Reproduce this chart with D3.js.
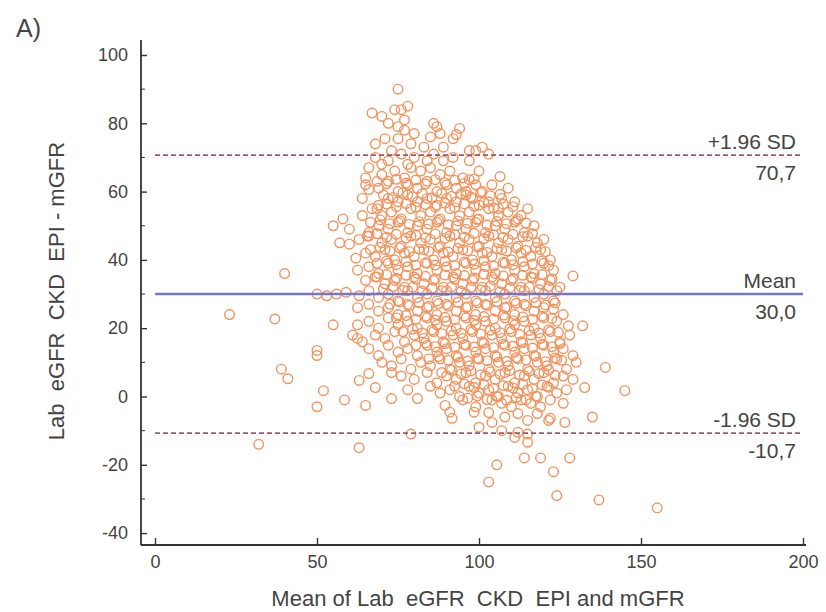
<!DOCTYPE html>
<html>
<head>
<meta charset="utf-8">
<script src="https://cdnjs.cloudflare.com/ajax/libs/d3/7.8.5/d3.min.js"></script>
<style>
  body { margin: 0; background: #fff; }
  text { font-family: "Liberation Sans", Arial, sans-serif; fill: #444; }
</style>
</head>
<body>
<script>
// DATA : [mean of the two methods, difference]
var points = [
[75,90],
[67,83],[70,82],[74,84],[76,84],[77,81],[78,85],[72,80],
[75,79],[77,78],[86,80],[87,79],[88,77],[94,78.5],[80,77],[85,76],
[68,74],[71,75.5],[75,75.5],[92,75.5],[93,76.7],[101,73],[89,73],[79,74],[83,73],[97,72],[73,72],
[86,71],[68,70],[72,69],[76,71],[80,70],[84,69],[89,69],[92,70],[97,69],[103,71],[78,68],[70,68],[99,72],
[65,64],[66,67],[70,65],[74,66],[77,64],[82,66],[85,67],[88,65],[91,66],[95,64],[97,63.5],[100,66],[106.5,64.4],[79,67],
[66,60.6],[65,62],[69,61],[72,63],[75,60],[78,62],[81,61],[84,63],[87,60],[90,62],[93,61],[96,60],[99,62],[101,60],[109,61],[104,62],
[69,56],[64,58],[72,58],[75,57],[78,59],[81,57],[84,58],[87,56],[90,58],[93,57],[96,59],[98,58],[100,56],[103,57],[107,58],[111,57],[106,55],
[64,53],[67,55],[70,53],[73,54],[76,52],[79,55],[82,53],[85,54],[88,52],[91,55],[94,53],[97,54],[100,52],[103,55],[106,53],[109,54],[112,52],[115,55],[58,52],
[55,50],[66,48],[60,49],[69,50],[72,49],[75,51],[78,48],[81,50],[84,49],[87,51],[90,48],[93,50],[96,49],[99,51],[102,48],[105,50],[108,49],[111,51],[114,48],[117,50],[113,53],
[57,45],[60,44.6],[63,46],[66,47],[70,45],[73,46],[76,44],[79,47],[82,45],[85,46],[88,44],[91,47],[94,45],[97,46],[100,44],[103,47],[106,45],[109,46],[112,44],[115,47],[118,45],[120,46],
[62,40.5],[65,42],[68,41],[71,43],[74,40],[77,42],[80,41],[83,43],[86,40],[89,42],[92,41],[95,43],[98,40],[101,42],[104,41],[107,43],[110,40],[113,42],[116,41],[119,43],[122,40],
[40,36],[62.5,37],[66,38],[69,36],[72,39],[75,37],[78,38],[81,36],[84,39],[87,37],[90,38],[93,36],[96,39],[99,37],[102,38],[105,36],[108,39],[111,37],[114,38],[117,36],[120,39],[123,37],
[65,34],[68,35],[71,33],[74,34],[77,32],[80,35],[83,33],[86,34],[89,32],[92,35],[95,33],[98,34],[101,32],[104,35],[107,33],[110,34],[113,32],[116,35],[119,33],[122,34],[125,32],[129,35.3],
[50,30],[53,29.5],[56,30],[59,30.5],[63,29.5],[66,31],[69,29],[72,30],[75,28],[78,31],[81,29],[84,30],[87,28],[90,31],[93,29],[96,30],[99,28],[102,31],[105,29],[108,30],[111,28],[114,31],[117,29],[120,30],[123,28],
[23,24],[62.5,26],[66,27],[69,25],[72,26],[75,24],[78,27],[81,25],[84,26],[87,24],[90,27],[93,25],[96,26],[99,24],[102,27],[105,25],[108,26],[111,24],[114,27],[117,25],[120,26],[123,25.6],[126,24],
[37,22.7],[55,21],[62.5,21],[66,22],[69,20],[72,23],[75,21],[78,22],[81,20],[84,23],[87,21],[90,22],[93,20],[96,23],[99,21],[102,22],[105,20],[108,23],[111,21],[114,22],[117,20],[120,23],[127.6,20.7],[132,20.7],[124,22],
[62.5,17],[61,18],[64,16],[68,18],[71,17],[74,19],[77,16],[80,18],[83,17],[86,19],[89,16],[92,18],[95,17],[98,19],[101,16],[104,18],[107,17],[110,19],[113,16],[116,18],[119,17],[122,19],[125,16],[128,18],
[50,12],[50,13.5],[66,14],[69,12],[72,15],[75,13],[78,14],[81,12],[84,15],[87,13],[90,14],[93,12],[96,15],[99,13],[102,14],[105,12],[108,15],[111,13],[114,14],[117,12],[120,15],[123,13],[126,14],[129,12],
[39,8],[70,10],[73,9],[76,11],[79,8],[82,10],[85,9],[88,11],[91,8],[94,10],[97,9],[100,11],[103,8],[106,10],[109,9],[112,11],[115,8],[118,10],[121,9],[124,11],[127,8],[130,10],[139,8.5],
[41,5.2],[63,4.7],[66,6.7],[76,6],[80,5],[84,7],[87,4],[90,6],[93,5],[96,7],[99,4],[102,6],[105,5],[108,7],[111,4],[114,6],[117,5],[120,7],[123,4],[126,6],[129,5],[73,7],
[52,1.7],[68,2.6],[78,2],[85,3],[88,1],[91,2],[94,0],[97,3],[100,1],[103,2],[106,0],[109,3],[112,1],[115,2],[118,0],[121,3],[124,1],[127,2],[132.6,2.6],[145,1.7],
[50,-3],[58.5,-1],[65,-2.6],[73,-0.6],[81,-0.6],[89.5,-2.6],[95,-1],[99,-3],[104,-1],[107,-2],[110,-3],[113,-1],[116,-2],[119,-3],[122,-1],[126,-2],
[91,-4.6],[91.7,-6.4],[98.5,-4.6],[103,-4.7],[104,-7.6],[108,-6],[112,-5],[115,-7],[118,-5],[121.5,-7],[126.5,-7.6],[135,-6],[122,-6.4],
[100,-9],[111,-12],[112,-10.5],[79,-11],[107,-10],[115,-11],
[115,-13.4],[32,-14],[63,-15],[114,-18],[119,-18],[128,-18],[105.5,-20],[123,-22],[103,-25],[124,-29],[137,-30.3],[155,-32.6],
// denser core of the cloud
[68.5,63],[71.5,62.3],[74.5,63.6],[77.5,62.5],[80.5,63.4],[83.5,62.2],[86.5,63.5],[89.5,62.6],[92.5,63.3],[95.5,62.4],[98.5,63.7],
[70.5,59],[73.5,58.3],[76.5,59.6],[79.5,58.5],[82.5,59.4],[85.5,58.2],[88.5,59.5],[91.5,58.6],[94.5,59.3],[97.5,58.4],[100.5,59.7],[103.5,58.8],[106.5,59.2],
[68.5,55],[71.5,56.3],[74.5,55.6],[77.5,56.5],[80.5,55.4],[83.5,56.2],[86.5,55.5],[89.5,56.6],[92.5,55.3],[95.5,56.4],[98.5,55.7],[101.5,56.8],[104.5,55.2],[107.5,56.3],[110.5,55.6],
[66.5,51],[69.5,51.7],[72.5,50.6],[75.5,51.5],[78.5,50.4],[81.5,51.2],[84.5,50.5],[87.5,51.6],[90.5,50.3],[93.5,51.4],[96.5,50.7],[99.5,51.8],[102.5,50.2],[105.5,51.3],[108.5,50.6],[111.5,51.5],[114.5,50.8],
[65.5,47],[68.5,47.7],[71.5,46.6],[74.5,47.5],[77.5,46.4],[80.5,47.2],[83.5,46.5],[86.5,47.6],[89.5,46.3],[92.5,47.4],[95.5,46.7],[98.5,47.8],[101.5,46.2],[104.5,47.3],[107.5,46.6],[110.5,47.5],[113.5,46.8],[116.5,47.7],
[66.5,43],[69.5,43.7],[72.5,42.6],[75.5,43.5],[78.5,42.4],[81.5,43.2],[84.5,42.5],[87.5,43.6],[90.5,42.3],[93.5,43.4],[96.5,42.7],[99.5,43.8],[102.5,42.2],[105.5,43.3],[108.5,42.6],[111.5,43.5],[114.5,42.8],[117.5,43.7],[120.5,42.4],
[68.5,39],[71.5,39.7],[74.5,38.6],[77.5,39.5],[80.5,38.4],[83.5,39.2],[86.5,38.5],[89.5,39.6],[92.5,38.3],[95.5,39.4],[98.5,38.7],[101.5,39.8],[104.5,38.2],[107.5,39.3],[110.5,38.6],[113.5,39.5],[116.5,38.8],[119.5,39.7],[121.5,38.3],
[68.5,35],[71.5,35.7],[74.5,34.6],[77.5,35.5],[80.5,34.4],[83.5,35.2],[86.5,34.5],[89.5,35.6],[92.5,34.3],[95.5,35.4],[98.5,34.7],[101.5,35.8],[104.5,34.2],[107.5,35.3],[110.5,34.6],[113.5,35.5],[116.5,34.8],[119.5,35.7],[122.5,34.4],
[70.5,31.5],[73.5,32.2],[76.5,31.1],[79.5,32],[82.5,30.9],[85.5,31.7],[88.5,31],[91.5,32.1],[94.5,30.8],[97.5,31.9],[100.5,31.2],[103.5,32.3],[106.5,30.7],[109.5,31.8],[112.5,31.1],[115.5,32],[118.5,31.3],[121.5,32.2],[124,31],
[72.5,27],[75.5,27.7],[78.5,26.6],[81.5,27.5],[84.5,26.4],[87.5,27.2],[90.5,26.5],[93.5,27.6],[96.5,26.3],[99.5,27.4],[102.5,26.7],[105.5,27.8],[108.5,26.2],[111.5,27.3],[114.5,26.6],[117.5,27.5],[120.5,26.8],[123.5,27.4],
[74.5,23],[77.5,23.7],[80.5,22.6],[83.5,23.5],[86.5,22.4],[89.5,23.2],[92.5,22.5],[95.5,23.6],[98.5,22.3],[101.5,23.4],[104.5,22.7],[107.5,23.8],[110.5,22.2],[113.5,23.3],[116.5,22.6],[119.5,23.5],[122.5,22.8],
[76.5,19],[79.5,19.7],[82.5,18.6],[85.5,19.5],[88.5,18.4],[91.5,19.2],[94.5,18.5],[97.5,19.6],[100.5,18.3],[103.5,19.4],[106.5,18.7],[109.5,19.8],[112.5,18.2],[115.5,19.3],[118.5,18.6],[121.5,19.5],[124.5,18.8],
[80.5,15],[83.5,15.7],[86.5,14.6],[89.5,15.5],[92.5,14.4],[95.5,15.2],[98.5,14.5],[101.5,15.6],[104.5,14.3],[107.5,15.4],[110.5,14.7],[113.5,15.8],[116.5,14.2],[119.5,15.3],[122.5,14.6],[125,15.5],
[84.5,11],[87.5,11.7],[90.5,10.6],[93.5,11.5],[96.5,10.4],[99.5,11.2],[102.5,10.5],[105.5,11.6],[108.5,10.3],[111.5,11.4],[114.5,10.7],[117.5,11.8],[120.5,10.2],[123.5,11.3],[125.5,10.6],
[88.5,7],[91.5,7.7],[94.5,6.6],[97.5,7.5],[100.5,6.4],[103.5,7.2],[106.5,6.5],[109.5,7.6],[112.5,6.3],[115.5,7.4],[118.5,6.7],[121.5,7.8],[123.5,6.2],
[92.5,3],[95.5,3.7],[98.5,2.6],[101.5,3.5],[104.5,2.4],[107.5,3.2],[110.5,2.5],[113.5,3.6],[116.5,2.3],[119.5,3.4],[121.5,2.7],
[96.5,-0.5],[99.5,0.2],[102.5,-0.9],[105.5,0],[108.5,-1.1],[111.5,-0.3],[114.5,-1],[117.5,0.1]
];

// reference lines : value, label above, label below
var limVals = [70.7, 30.0, -10.7];
var limNames = ["+1.96 SD", "Mean", "-1.96 SD"];
var limTexts = ["70,7", "30,0", "-10,7"];

var xTicks = [0, 50, 100, 150, 200];
var yTicks = [-40, -20, 0, 20, 40, 60, 80, 100];
var yMinor = [-30, -10, 10, 30, 50, 70, 90];

var W = 826, H = 612;

var svg = d3.select("body").append("svg")
    .attr("width", W)
    .attr("height", H);

// SCALES
var absc = d3.scaleLinear().domain([0, 200]).range([155, 803]);
var ordo = d3.scaleLinear().domain([0, 100]).range([396.5, 55]);

var axisX = 141, axisY = 545;

// POINTS
svg.append("g").selectAll("circle")
    .data(points)
    .enter().append("circle")
    .attr("cx", function(d) { return absc(d[0]); })
    .attr("cy", function(d) { return ordo(d[1]); })
    .attr("r", 4.8)
    .attr("fill", "none")
    .attr("stroke", "#f2935e")
    .attr("stroke-width", 1.4);

// LINES
svg.append("g").selectAll("line")
    .data(limVals)
    .enter().append("line")
    .attr("x1", absc(0))
    .attr("x2", absc(200))
    .attr("y1", function(d) { return ordo(d); })
    .attr("y2", function(d) { return ordo(d); })
    .attr("stroke", function(d, i) { return i == 1 ? "#7474cc" : "#a05a68"; })
    .attr("stroke-width", function(d, i) { return i == 1 ? 2.4 : 1.8; })
    .attr("stroke-dasharray", function(d, i) { return i == 1 ? null : "5,3"; });

svg.append("g").selectAll("text")
    .data(limVals)
    .enter().append("text")
    .attr("x", 796)
    .attr("y", function(d) { return ordo(d) - 6; })
    .attr("text-anchor", "end")
    .style("font-size", "21px")
    .text(function(d, i) { return limNames[i]; });

svg.append("g").selectAll("text")
    .data(limVals)
    .enter().append("text")
    .attr("x", 796)
    .attr("y", function(d) { return ordo(d) + 25; })
    .attr("text-anchor", "end")
    .style("font-size", "21px")
    .text(function(d, i) { return limTexts[i]; });

// AXES
var gx = svg.append("g")
    .attr("transform", "translate(0," + axisY + ")")
    .call(d3.axisBottom(absc).tickValues(xTicks).tickFormat(function(d) { return "" + d; })
      .tickSize(-7).tickPadding(10));

var gy = svg.append("g")
    .attr("transform", "translate(" + axisX + ",0)")
    .call(d3.axisLeft(ordo).tickValues(yTicks).tickFormat(function(d) { return "" + d; })
      .tickSize(-6).tickPadding(13));

gy.selectAll(".minor")
    .data(yMinor)
    .enter().append("line")
    .attr("class", "minor")
    .attr("x1", 0).attr("x2", 4)
    .attr("y1", function(d) { return ordo(d); })
    .attr("y2", function(d) { return ordo(d); })
    .attr("stroke", "#333");

[gx, gy].forEach(function(g) {
  g.select(".domain").remove();
  g.selectAll(".tick line").attr("stroke", "#333").attr("stroke-width", 1.4);
  g.selectAll(".tick text").style("font-size", "18px").attr("fill", "#444");
});

svg.append("line")
    .attr("x1", axisX).attr("x2", axisX)
    .attr("y1", 40).attr("y2", axisY)
    .attr("stroke", "#333").attr("stroke-width", 1.8);

svg.append("line")
    .attr("x1", axisX).attr("x2", 806)
    .attr("y1", axisY).attr("y2", axisY)
    .attr("stroke", "#333").attr("stroke-width", 1.8);

// TITLES
svg.append("text")
    .attr("x", 478).attr("y", 606)
    .attr("text-anchor", "middle")
    .style("font-size", "22px")
    .style("white-space", "pre")
    .text("Mean of Lab  eGFR  CKD  EPI and mGFR");

svg.append("text")
    .attr("transform", "translate(64,291) rotate(-90)")
    .attr("text-anchor", "middle")
    .style("font-size", "22px")
    .style("white-space", "pre")
    .text("Lab  eGFR  CKD  EPI - mGFR");

svg.append("text")
    .attr("x", 16).attr("y", 37)
    .style("font-size", "25px")
    .text("A)");
</script>
</body>
</html>
